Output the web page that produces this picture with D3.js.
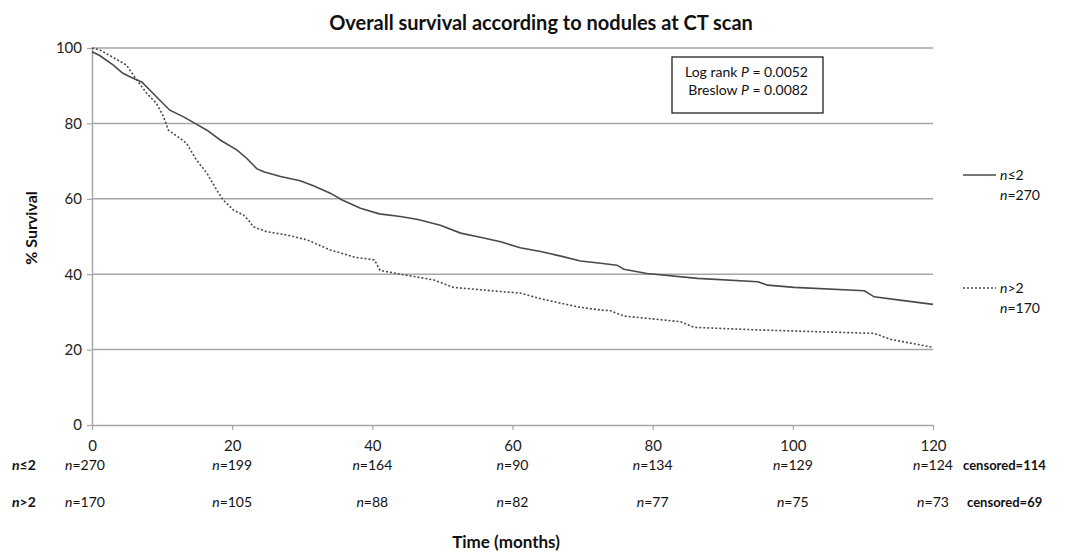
<!DOCTYPE html>
<html>
<head>
<meta charset="utf-8">
<script src="https://cdnjs.cloudflare.com/ajax/libs/d3/7.8.5/d3.min.js"></script>
<style>
  body { margin: 0; background: #fff; }
  svg { font-family: Lato, "Open Sans", sans-serif; }
</style>
</head>
<body>
<div id="chart"></div>
<script>
// Kaplan-Meier curves (months, % survival)
var lowMonths = [0, 1.1, 3, 4.4, 6.1, 7.1, 8.7, 11.1, 13, 14.7, 16.4, 18.3, 20.7, 22.1, 23.5, 24.5, 26.9, 29.7, 31.5, 34, 35.7, 38.3, 41, 44, 46.5, 49.7, 52.6, 55.4, 58.3, 61.1, 64, 66.9, 69.7, 72.6, 74.9, 75.9, 79.2, 86.4, 95, 96.4, 100.2, 110.2, 111.6, 115, 120];
var lowSurv   = [99, 98, 95.5, 93.3, 91.8, 91, 88, 83.5, 81.8, 80, 78.2, 75.6, 72.9, 70.7, 68, 67.2, 65.9, 64.8, 63.5, 61.5, 59.7, 57.5, 56, 55.3, 54.5, 53, 50.9, 49.8, 48.6, 47, 46, 44.8, 43.5, 42.9, 42.4, 41.3, 40.2, 38.9, 38, 37.1, 36.5, 35.6, 34, 33.2, 32];

var highMonths = [0, 1.1, 3.5, 4.9, 5.9, 6.6, 7.8, 9.2, 10.2, 10.9, 12.6, 13.5, 14.9, 16.4, 17.8, 18.7, 20.2, 21.6, 22.3, 23, 24.9, 27.8, 30.7, 34, 35.4, 37.5, 40.3, 41.1, 44, 48.7, 51.6, 58.3, 61.1, 64, 66.9, 69.7, 72.6, 74, 75.9, 84, 85.9, 95.4, 111.6, 114, 120];
var highSurv   = [100, 99.5, 97, 95.5, 92.8, 91, 88, 85.3, 81.8, 78.2, 76, 74.7, 70.3, 66.8, 62.3, 59.7, 57, 55.7, 54.4, 52.6, 51.3, 50.4, 49.1, 46.4, 45.7, 44.5, 43.8, 41, 40, 38.5, 36.5, 35.4, 35, 33.5, 32.3, 31.2, 30.5, 30.3, 28.9, 27.4, 25.9, 25.2, 24.3, 22.7, 20.6];

var xTicks = [0, 20, 40, 60, 80, 100, 120];
var yTicks = [0, 20, 40, 60, 80, 100];
var atRiskLow  = [270, 199, 164, 90, 134, 129, 124];
var atRiskHigh = [170, 105, 88, 82, 77, 75, 73];
var censoredLow = 114;
var censoredHigh = 69;

var width = 1071, height = 553;

var svg = d3.select('#chart')
    .append('svg')
    .attr('width', width)
    .attr('height', height);

var x = d3.scaleLinear().domain([0, 120]).range([92, 933]);
var y = d3.scaleLinear().domain([0, 100]).range([425, 48]);

// horizontal gridlines
svg.append('g')
    .selectAll('line')
    .data(yTicks.filter(function(d) { return d > 0; }))
    .enter()
    .append('line')
    .attr('x1', x(0))
    .attr('x2', x(120))
    .attr('y1', function(d) { return y(d); })
    .attr('y2', function(d) { return y(d); })
    .attr('stroke', '#a6a6a6')
    .attr('stroke-width', 1.5);

// axes
var yAxis = svg.append('g')
    .attr('transform', 'translate(' + x(0) + ',0)')
    .call(d3.axisLeft(y).tickValues(yTicks).tickSize(5).tickSizeOuter(0).tickPadding(5));

var xAxis = svg.append('g')
    .attr('transform', 'translate(0,' + y(0) + ')')
    .call(d3.axisBottom(x).tickValues(xTicks).tickSize(5).tickSizeOuter(0).tickPadding(10));

[xAxis, yAxis].forEach(function(ax) {
    ax.select('.domain').attr('stroke', '#a6a6a6').attr('stroke-width', 1.5);
    ax.selectAll('.tick line').attr('stroke', '#a6a6a6').attr('stroke-width', 1.2);
    ax.selectAll('.tick text')
        .attr('fill', '#222')
        .style('font-size', '15px')
        .style('font-family', 'Lato, sans-serif');
});

// survival curves
var line = d3.line()
    .x(function(d) { return x(d[0]); })
    .y(function(d) { return y(d[1]); });

var lowPts = lowMonths.map(function(m, i) { return [m, lowSurv[i]]; });
var highPts = highMonths.map(function(m, i) { return [m, highSurv[i]]; });

svg.append('path')
    .datum(lowPts)
    .attr('d', line)
    .attr('fill', 'none')
    .attr('stroke', '#4a4a4a')
    .attr('stroke-width', 1.6);

svg.append('path')
    .datum(highPts)
    .attr('d', line)
    .attr('fill', 'none')
    .attr('stroke', '#4a4a4a')
    .attr('stroke-width', 1.6)
    .attr('stroke-dasharray', '2,2');

// title
svg.append('text')
    .attr('x', 541)
    .attr('y', 30)
    .attr('text-anchor', 'middle')
    .style('font-size', '20px')
    .style('font-weight', 'bold')
    .attr('fill', '#111')
    .text('Overall survival according to nodules at CT scan');

// y axis title
svg.append('text')
    .attr('transform', 'translate(37,228) rotate(-90)')
    .attr('text-anchor', 'middle')
    .style('font-size', '16px')
    .style('font-weight', 'bold')
    .attr('fill', '#111')
    .text('% Survival');

// p-value box
svg.append('rect')
    .attr('x', 672)
    .attr('y', 57)
    .attr('width', 151)
    .attr('height', 56)
    .attr('fill', 'white')
    .attr('stroke', '#222')
    .attr('stroke-width', 1.3);

var pLines = [['Log rank ', '0.0052'], ['Breslow ', '0.0082']];
svg.append('g')
    .selectAll('text')
    .data(pLines)
    .enter()
    .append('text')
    .attr('x', 808)
    .attr('y', function(d, i) { return 77 + i * 18; })
    .attr('text-anchor', 'end')
    .style('font-size', '14px')
    .attr('fill', '#111')
    .each(function(d) {
        var t = d3.select(this);
        t.append('tspan').text(d[0]);
        t.append('tspan').style('font-style', 'italic').text('P');
        t.append('tspan').text(' = ' + d[1]);
    });

// right legend
var legend = [
    {dash: null, label: '\u22642', n: 270, y: 175},
    {dash: '2,2', label: '>2', n: 170, y: 288}
];
var lg = svg.append('g').selectAll('g').data(legend).enter().append('g');
lg.append('line')
    .attr('x1', 963).attr('x2', 996)
    .attr('y1', function(d) { return d.y; })
    .attr('y2', function(d) { return d.y; })
    .attr('stroke', '#4a4a4a')
    .attr('stroke-width', 1.3)
    .attr('stroke-dasharray', function(d) { return d.dash; });
lg.append('text')
    .attr('x', 1000)
    .attr('y', function(d) { return d.y + 5; })
    .style('font-size', '14px')
    .attr('fill', '#111')
    .each(function(d) {
        var t = d3.select(this);
        t.append('tspan').style('font-style', 'italic').text('n');
        t.append('tspan').text(d.label);
    });
lg.append('text')
    .attr('x', 1000)
    .attr('y', function(d) { return d.y + 25; })
    .style('font-size', '14px')
    .attr('fill', '#111')
    .each(function(d) {
        var t = d3.select(this);
        t.append('tspan').style('font-style', 'italic').text('n');
        t.append('tspan').text('=' + d.n);
    });

// numbers at risk table
var rows = [
    {label: '\u22642', values: atRiskLow, censored: censoredLow, y: 470, cx: 963},
    {label: '>2', values: atRiskHigh, censored: censoredHigh, y: 507, cx: 967}
];
rows.forEach(function(r) {
    var lab = svg.append('text')
        .attr('x', 12)
        .attr('y', r.y)
        .style('font-size', '14px')
        .style('font-weight', 'bold')
        .attr('fill', '#111');
    lab.append('tspan').style('font-style', 'italic').text('n');
    lab.append('tspan').text(r.label);

    svg.append('g')
        .selectAll('text')
        .data(r.values)
        .enter()
        .append('text')
        .attr('x', function(d, i) { return x(xTicks[i]) + (i === 0 ? -7 : 0); })
        .attr('y', r.y)
        .attr('text-anchor', 'middle')
        .style('font-size', '14px')
        .attr('fill', '#111')
        .each(function(d) {
            var t = d3.select(this);
            t.append('tspan').style('font-style', 'italic').text('n');
            t.append('tspan').text('=' + d);
        });

    svg.append('text')
        .attr('x', r.cx)
        .attr('y', r.y)
        .style('font-size', '13px')
        .style('font-weight', 'bold')
        .attr('fill', '#111')
        .text('censored=' + r.censored);
});

// x axis title
svg.append('text')
    .attr('x', 506)
    .attr('y', 548)
    .attr('text-anchor', 'middle')
    .style('font-size', '17px')
    .style('font-weight', 'bold')
    .attr('fill', '#111')
    .text('Time (months)');
</script>
</body>
</html>
